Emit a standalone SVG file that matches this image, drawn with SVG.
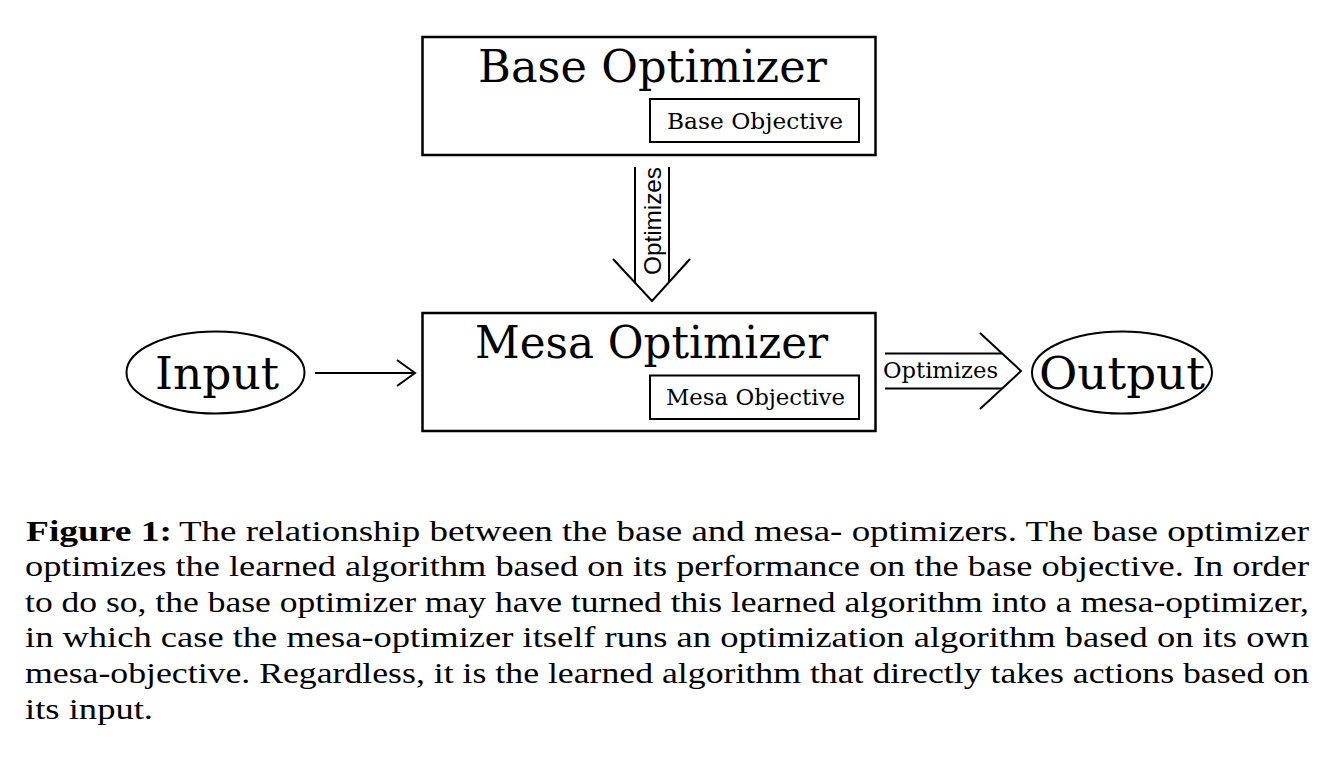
<svg xmlns="http://www.w3.org/2000/svg" width="1338" height="760" viewBox="0 0 1338 760">
<style>
.box{fill:#fff;stroke:#000;stroke-width:2.5}
.ibox{fill:#fff;stroke:#000;stroke-width:2}
.ell{fill:#fff;stroke:#000;stroke-width:2}
.ln{fill:none;stroke:#000;stroke-width:2;stroke-linecap:butt;stroke-linejoin:miter}
.big{font-family:"DejaVu Serif","Liberation Serif",serif;font-size:44px;fill:#000}
.small{font-family:"DejaVu Serif","Liberation Serif",serif;font-size:23px;fill:#000}
.lab{font-family:"DejaVu Serif","Liberation Serif",serif;font-size:22px;fill:#000}
.sans{font-family:"Liberation Sans",Arial,sans-serif;font-size:24px;fill:#000}
.cap{font-family:"Liberation Serif","Times New Roman",serif;font-size:30px;fill:#000}
.capb{font-family:"Liberation Serif","Times New Roman",serif;font-size:30px;font-weight:bold;fill:#000}
</style>
<rect width="1338" height="760" fill="#fff"/>
<g id="connectors">
  <g id="base-to-mesa">
    <line class="ln" x1="635" y1="167" x2="635" y2="283"/>
    <line class="ln" x1="669" y1="167" x2="669" y2="283"/>
    <polyline class="ln" points="613,259 652,301 690,259"/>
    <text class="sans" transform="translate(661,221) rotate(-90)" text-anchor="middle" textLength="108" lengthAdjust="spacingAndGlyphs">Optimizes</text>
  </g>
  <g id="input-to-mesa">
    <line class="ln" x1="315" y1="373" x2="414" y2="373"/>
    <polyline class="ln" points="397,360 415,373 397,386"/>
  </g>
  <g id="mesa-to-output">
    <line class="ln" x1="885" y1="353.5" x2="1002" y2="353.5"/>
    <line class="ln" x1="885" y1="388.5" x2="1002" y2="388.5"/>
    <polyline class="ln" points="980,333 1021,371 980,409"/>
    <text class="lab" x="883" y="378" textLength="115" lengthAdjust="spacingAndGlyphs">Optimizes</text>
  </g>
</g>
<g id="base-optimizer">
  <rect class="box" x="422.5" y="37" width="453" height="118"/>
  <text class="big" x="478" y="82" textLength="349" lengthAdjust="spacingAndGlyphs">Base Optimizer</text>
  <g id="base-objective">
    <rect class="ibox" x="650" y="99" width="209" height="43"/>
    <text class="small" x="667" y="129" textLength="176" lengthAdjust="spacingAndGlyphs">Base Objective</text>
  </g>
</g>
<g id="mesa-optimizer">
  <rect class="box" x="422.5" y="313" width="453" height="118"/>
  <text class="big" x="475" y="358" textLength="353" lengthAdjust="spacingAndGlyphs">Mesa Optimizer</text>
  <g id="mesa-objective">
    <rect class="ibox" x="650" y="375.5" width="209" height="43.5"/>
    <text class="small" x="666" y="405" textLength="179" lengthAdjust="spacingAndGlyphs">Mesa Objective</text>
  </g>
</g>
<g id="input">
  <ellipse class="ell" cx="215.5" cy="372.5" rx="89" ry="41"/>
  <text class="big" x="155" y="388.5" textLength="124" lengthAdjust="spacingAndGlyphs">Input</text>
</g>
<g id="output">
  <ellipse class="ell" cx="1122" cy="372.5" rx="90" ry="41"/>
  <text class="big" x="1039" y="389" textLength="166" lengthAdjust="spacingAndGlyphs">Output</text>
</g>
<g id="caption">
  <text class="capb" x="26" y="540.5" textLength="146" lengthAdjust="spacingAndGlyphs">Figure 1:</text>
  <text class="cap" x="179" y="540.5" textLength="1130" lengthAdjust="spacingAndGlyphs">The relationship between the base and mesa- optimizers. The base optimizer</text>
  <text class="cap" x="25" y="576.2" textLength="1284" lengthAdjust="spacingAndGlyphs">optimizes the learned algorithm based on its performance on the base objective. In order</text>
  <text class="cap" x="25" y="611.8" textLength="1284" lengthAdjust="spacingAndGlyphs">to do so, the base optimizer may have turned this learned algorithm into a mesa-optimizer,</text>
  <text class="cap" x="25" y="647.4" textLength="1284" lengthAdjust="spacingAndGlyphs">in which case the mesa-optimizer itself runs an optimization algorithm based on its own</text>
  <text class="cap" x="25" y="683" textLength="1284" lengthAdjust="spacingAndGlyphs">mesa-objective. Regardless, it is the learned algorithm that directly takes actions based on</text>
  <text class="cap" x="25" y="718.5" textLength="128" lengthAdjust="spacingAndGlyphs">its input.</text>
</g>
</svg>
